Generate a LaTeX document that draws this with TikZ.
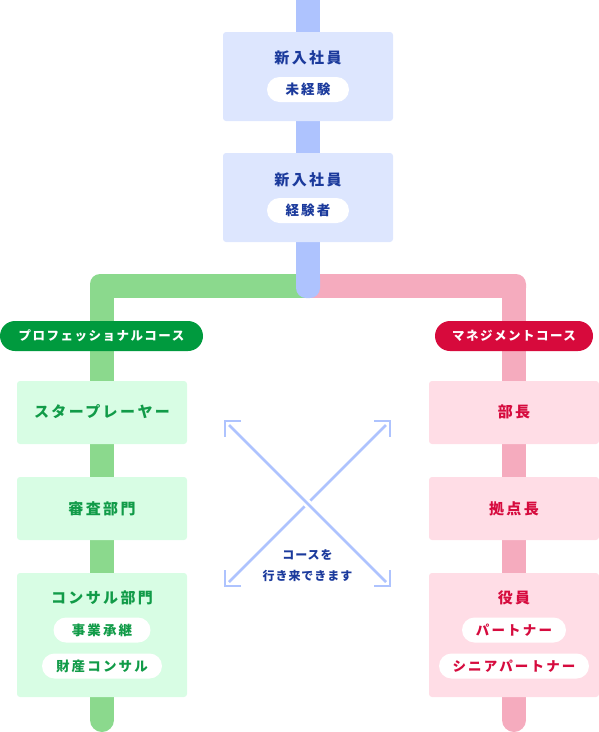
\documentclass[tikz,border=0pt]{standalone}
\usepackage{fontspec}
\setmainfont{Noto Sans CJK JP}
\newfontfamily\jp{Noto Sans CJK JP}
\definecolor{bline}{HTML}{AEC3FE}
\definecolor{bbox}{HTML}{DDE6FE}
\definecolor{btxt}{HTML}{1B3A9C}
\definecolor{gline}{HTML}{8BD98D}
\definecolor{gbox}{HTML}{D8FDE4}
\definecolor{gtxt}{HTML}{119B48}
\definecolor{gpill}{HTML}{009A3E}
\definecolor{pline}{HTML}{F5ABBE}
\definecolor{pbox}{HTML}{FFDDE6}
\definecolor{ptxt}{HTML}{D60B3E}
\definecolor{ppill}{HTML}{D70A3C}
\tikzset{
  card/.style={rounded corners=3pt, inner sep=0pt, outer sep=0pt},
  ttl/.style={font=\jp\bfseries\fontsize{15}{17}\selectfont\addfontfeature{LetterSpace=16}, inner sep=0pt},
  pilltxt/.style={font=\jp\bfseries\fontsize{13.5}{15}\selectfont\addfontfeature{LetterSpace=16}},
  wpill/.style={fill=white, rounded corners=12.5pt, minimum height=25pt, inner xsep=0pt, inner ysep=0pt, pilltxt},
  course/.style={rounded corners=15pt, minimum height=30pt, inner sep=0pt, text=white, font=\jp\bfseries\fontsize{12.5}{14}\selectfont\addfontfeature{LetterSpace=12}},
  xline/.style={draw=bline, line width=2.5pt},
  xtxt/.style={font=\jp\bfseries\fontsize{12}{14}\selectfont\addfontfeature{LetterSpace=8}, text=btxt, inner sep=0pt},
}
\begin{document}
\begin{tikzpicture}[x=1pt,y=-1pt]
\useasboundingbox (0,0) rectangle (599,732);
% green track
\fill[gline] (100,274) rectangle (308,298);
\fill[gline] (90,284) rectangle (114,720);
\fill[gline, rounded corners=10pt] (90,274) rectangle (114,298);
\fill[gline] (102,720) circle[radius=12pt];
% pink track
\fill[pline] (308,274) rectangle (516,298);
\fill[pline] (502,284) rectangle (526,720);
\fill[pline, rounded corners=10pt] (502,274) rectangle (526,298);
\fill[pline] (514,720) circle[radius=12pt];
% blue track
\fill[bline] (296,-10) rectangle (320,280);
\fill[bline, rounded corners=10pt] (296,268) rectangle (320,298);

% top boxes
\fill[bbox, card] (223,32) rectangle (393,121);
\node[ttl, text=btxt] (t1) at (308,58) {新入社員};
\node[wpill, text=btxt, minimum width=82pt] (p1) at (308,89.5) {未経験};
\fill[bbox, card] (223,153) rectangle (393,242);
\node[ttl, text=btxt] (t2) at (308,180) {新入社員};
\node[wpill, text=btxt, minimum width=82pt] (p2) at (308,210.5) {経験者};

% course labels
\node[course, fill=gpill, minimum width=203pt] (cl) at (101.5,336) {プロフェッショナルコース};
\node[course, fill=ppill, minimum width=158pt] (cr) at (514,336) {マネジメントコース};

% left column
\fill[gbox, card] (17,381) rectangle (187,444);
\node[ttl, text=gtxt] (l1) at (102,412) {スタープレーヤー};
\fill[gbox, card] (17,477) rectangle (187,540);
\node[ttl, text=gtxt] (l2) at (102,508.5) {審査部門};
\fill[gbox, card] (17,573) rectangle (187,697);
\node[ttl, text=gtxt] (l3) at (102,598) {コンサル部門};
\node[wpill, text=gtxt, minimum width=97pt] (l3a) at (102,630) {事業承継};
\node[wpill, text=gtxt, minimum width=120pt] (l3b) at (102,666) {財産コンサル};

% right column
\fill[pbox, card] (429,381) rectangle (599,444);
\node[ttl, text=ptxt] (r1) at (514,412) {部長};
\fill[pbox, card] (429,477) rectangle (599,540);
\node[ttl, text=ptxt] (r2) at (514,508.5) {拠点長};
\fill[pbox, card] (429,573) rectangle (599,697);
\node[ttl, text=ptxt] (r3) at (514,598) {役員};
\node[wpill, text=ptxt, minimum width=104pt] (r3a) at (514,630) {パートナー};
\node[wpill, text=ptxt, minimum width=150pt] (r3b) at (514,666) {シニアパートナー};

% cross
\coordinate (TL) at (225,421);
\coordinate (TR) at (390,421);
\coordinate (BL) at (225,586);
\coordinate (BR) at (390,586);
\draw[xline] (241,421) -- (TL) -- (225,437);
\draw[xline] (374,421) -- (TR) -- (390,437);
\draw[xline] (241,586) -- (BL) -- (225,570);
\draw[xline] (374,586) -- (BR) -- (390,570);
\draw[xline] (386,425) -- (229,582);
\draw[white, line width=8pt] (300,496) -- (315,511);
\draw[xline] (229,425) -- (386,582);
\node[xtxt] (c1) at (307.5,555) {コースを};
\node[xtxt] (c2) at (307.5,576) {行き来できます};
\end{tikzpicture}
\end{document}
